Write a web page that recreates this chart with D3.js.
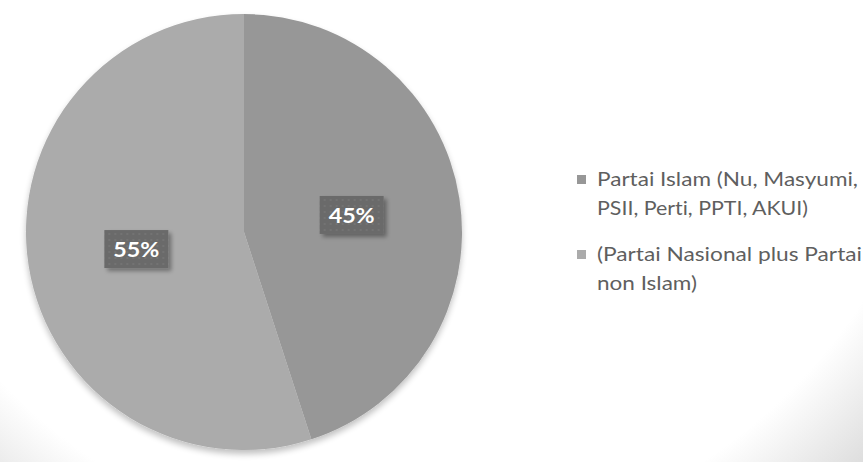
<!DOCTYPE html>
<html>
<head>
<meta charset="utf-8">
<script src="https://cdn.jsdelivr.net/npm/d3@7/dist/d3.min.js"></script>
<style>
  html, body { margin: 0; padding: 0; background: #fff; }
  svg { display: block; }
  text { font-variant-ligatures: none; font-feature-settings: "liga" 0, "clig" 0; }
</style>
</head>
<body>
<svg id="chart" width="863" height="462"></svg>
<script>
// Vote share of party groups
const categories = [
  "Partai Islam (Nu, Masyumi, PSII, Perti, PPTI, AKUI)",
  "(Partai Nasional plus Partai non Islam)"
];
const values = [45, 55];
const valueLabels = ["45%", "55%"];
// Legend text broken into the displayed lines
const legendLines = [
  ["Partai Islam (Nu, Masyumi,", "PSII, Perti, PPTI, AKUI)"],
  ["(Partai Nasional plus Partai", "non Islam)"]
];
const colors = ["#979797", "#ababab"];

const W = 863, H = 462;
const cx = 244, cy = 232, R = 218;

const svg = d3.select("#chart");
const defs = svg.append("defs");

// Background: white fading to grey toward the lower right corner
const bg = defs.append("radialGradient")
  .attr("id", "bgGrad")
  .attr("gradientUnits", "userSpaceOnUse")
  .attr("cx", 400).attr("cy", 0).attr("r", 690);
bg.append("stop").attr("offset", "0").attr("stop-color", "#ffffff");
bg.append("stop").attr("offset", "0.8").attr("stop-color", "#ffffff");
bg.append("stop").attr("offset", "1").attr("stop-color", "#d2d2d2");

svg.append("rect").attr("width", W).attr("height", H).attr("fill", "url(#bgGrad)");

// Soft shadow under the pie
const pieShadow = defs.append("filter").attr("id", "pieShadow")
  .attr("x", "-10%").attr("y", "-10%").attr("width", "120%").attr("height", "125%");
pieShadow.append("feGaussianBlur").attr("in", "SourceAlpha").attr("stdDeviation", 3).attr("result", "b");
pieShadow.append("feOffset").attr("in", "b").attr("dx", 0).attr("dy", 4).attr("result", "o");
pieShadow.append("feComponentTransfer").attr("in", "o").attr("result", "s")
  .append("feFuncA").attr("type", "linear").attr("slope", 0.25);
const pm = pieShadow.append("feMerge");
pm.append("feMergeNode").attr("in", "s");
pm.append("feMergeNode").attr("in", "SourceGraphic");

// Shadow behind the value boxes
const boxShadow = defs.append("filter").attr("id", "boxShadow")
  .attr("x", "-20%").attr("y", "-30%").attr("width", "150%").attr("height", "170%");
boxShadow.append("feGaussianBlur").attr("in", "SourceAlpha").attr("stdDeviation", 2).attr("result", "b");
boxShadow.append("feOffset").attr("in", "b").attr("dx", 3).attr("dy", 3).attr("result", "o");
boxShadow.append("feComponentTransfer").attr("in", "o").attr("result", "s")
  .append("feFuncA").attr("type", "linear").attr("slope", 0.35);
const bm = boxShadow.append("feMerge");
bm.append("feMergeNode").attr("in", "s");
bm.append("feMergeNode").attr("in", "SourceGraphic");

// Faint dotted texture in the value boxes
const dots = defs.append("pattern").attr("id", "dots")
  .attr("patternUnits", "userSpaceOnUse").attr("width", 6).attr("height", 6);
dots.append("rect").attr("width", 6).attr("height", 6).attr("fill", "#6a6a6a");
dots.append("circle").attr("cx", 3).attr("cy", 3).attr("r", 1).attr("fill", "#767676");

const pie = d3.pie().sort(null).value(d => d)
  .startAngle(0).endAngle(2 * Math.PI);
const arcs = pie(values);
const arc = d3.arc().innerRadius(0).outerRadius(R);

const g = svg.append("g").attr("transform", `translate(${cx},${cy})`);

g.append("g").attr("filter", "url(#pieShadow)")
  .selectAll("path").data(arcs).enter().append("path")
  .attr("d", arc)
  .attr("fill", (d, i) => colors[i]);

// Value labels in dark boxes at each slice centroid
const boxW = 64, boxH = 38;
const lbl = g.selectAll("g.lbl").data(arcs).enter().append("g")
  .attr("class", "lbl")
  .attr("transform", d => {
    const [x, y] = arc.centroid(d);
    return `translate(${x},${y})`;
  });
lbl.append("rect")
  .attr("x", -boxW / 2).attr("y", -boxH / 2)
  .attr("width", boxW).attr("height", boxH)
  .attr("fill", "url(#dots)")
  .attr("filter", "url(#boxShadow)");
lbl.append("text")
  .attr("text-anchor", "middle")
  .attr("y", 8)
  .attr("font-family", "Lato, 'Open Sans', sans-serif")
  .attr("font-weight", "bold")
  .attr("font-size", 20)
  .attr("fill", "#ffffff")
  .attr("textLength", 46)
  .attr("lengthAdjust", "spacingAndGlyphs")
  .text((d, i) => valueLabels[i]);

// Legend
const legendX = 577, textX = 597;
const lineWidths = [[261, 211], [265, 100]];
const baselines = [[186, 215], [261, 290]];
const legend = svg.append("g");
categories.forEach((c, i) => {
  const item = legend.append("g").attr("class", "legend-item");
  item.append("rect")
    .attr("x", legendX).attr("y", baselines[i][0] - 11)
    .attr("width", 9).attr("height", 9)
    .attr("fill", colors[i]);
  legendLines[i].forEach((line, j) => {
    item.append("text")
      .attr("x", textX).attr("y", baselines[i][j])
      .attr("font-family", "Lato, 'Open Sans', sans-serif")
      .attr("font-size", 20)
      .attr("fill", "#5f5f5f")
      .attr("textLength", lineWidths[i][j])
      .attr("lengthAdjust", "spacingAndGlyphs")
      .text(line);
  });
});
</script>
</body>
</html>
